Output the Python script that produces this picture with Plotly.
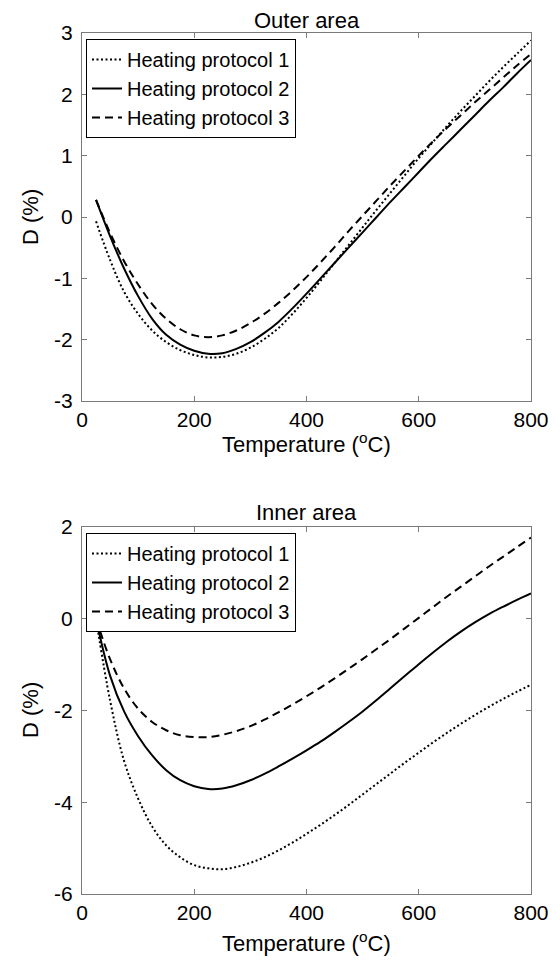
import plotly.graph_objects as go

temperature = [25, 50, 75, 100, 125, 150, 175, 200, 225, 250, 275, 300, 325, 350, 375, 400,
               425, 450, 475, 500, 525, 550, 575, 600, 625, 650, 675, 700, 725, 750, 775, 800]

outer_p1 = [-0.07, -0.70, -1.22, -1.58, -1.85, -2.04, -2.17, -2.25, -2.29, -2.28, -2.23, -2.13,
            -1.99, -1.81, -1.58, -1.32, -1.04, -0.75, -0.46, -0.17, 0.12, 0.40, 0.68, 0.96,
            1.22, 1.48, 1.73, 1.97, 2.21, 2.44, 2.66, 2.88]
outer_p2 = [0.28, -0.31, -0.84, -1.29, -1.66, -1.92, -2.08, -2.18, -2.23, -2.22, -2.15, -2.04,
            -1.89, -1.71, -1.49, -1.25, -1.00, -0.75, -0.50, -0.25, 0.00, 0.25, 0.49, 0.73,
            0.97, 1.20, 1.43, 1.66, 1.89, 2.11, 2.34, 2.56]
outer_p3 = [0.28, -0.26, -0.72, -1.10, -1.42, -1.66, -1.83, -1.93, -1.96, -1.93, -1.85, -1.73,
            -1.58, -1.40, -1.20, -0.98, -0.74, -0.49, -0.23, 0.02, 0.27, 0.52, 0.76, 1.00,
            1.23, 1.45, 1.66, 1.87, 2.07, 2.27, 2.47, 2.66]

inner_p1 = [0.0, -1.78, -3.10, -3.92, -4.53, -4.94, -5.20, -5.37, -5.44, -5.46, -5.41, -5.32,
            -5.20, -5.05, -4.88, -4.69, -4.49, -4.28, -4.06, -3.83, -3.60, -3.37, -3.14, -2.92,
            -2.70, -2.49, -2.29, -2.10, -1.92, -1.75, -1.59, -1.44]
inner_p2 = [0.0, -1.24, -2.02, -2.56, -2.98, -3.30, -3.52, -3.65, -3.71, -3.70, -3.63, -3.52,
            -3.38, -3.22, -3.05, -2.87, -2.68, -2.47, -2.25, -2.02, -1.77, -1.51, -1.25, -0.99,
            -0.74, -0.50, -0.28, -0.08, 0.10, 0.26, 0.41, 0.55]
inner_p3 = [0.0, -0.88, -1.52, -1.96, -2.25, -2.43, -2.54, -2.58, -2.58, -2.53, -2.45, -2.34,
            -2.20, -2.04, -1.87, -1.69, -1.50, -1.30, -1.09, -0.88, -0.66, -0.44, -0.21, 0.02,
            0.25, 0.48, 0.70, 0.92, 1.14, 1.35, 1.56, 1.77]

series_names = ["Heating protocol 1", "Heating protocol 2", "Heating protocol 3"]
x_ticks = [0, 200, 400, 600, 800]
x_tick_text = ["0", "200", "400", "600", "800"]
outer_y_ticks = [-3, -2, -1, 0, 1, 2, 3]
outer_y_text = ["-3", "-2", "-1", "0", "1", "2", "3"]
inner_y_ticks = [-6, -4, -2, 0, 2]
inner_y_text = ["-6", "-4", "-2", "0", "2"]

dashes = ["2px,2.5px", "solid", "8px,5px"]
FONT = "Arial, Liberation Sans, sans-serif"
AX = "#7a7a7a"

# the page body adds an 8px margin; size the figure to fill the rest of the window
OFF = 8
W, H = 560 - OFF, 962 - OFF

def fx(px):
    return (px - OFF) / W

def fy(py):
    return (H - (py - OFF)) / H

fig = go.Figure()
for name, ys, d in zip(series_names, [outer_p1, outer_p2, outer_p3], dashes):
    fig.add_trace(go.Scatter(x=temperature, y=ys, mode="lines", name=name,
                             line=dict(color="black", width=2, dash=d, shape="spline"),
                             xaxis="x", yaxis="y", legend="legend"))
for name, ys, d in zip(series_names, [inner_p1, inner_p2, inner_p3], dashes):
    fig.add_trace(go.Scatter(x=temperature, y=ys, mode="lines", name=name,
                             line=dict(color="black", width=2, dash=d, shape="spline"),
                             xaxis="x2", yaxis="y2", legend="legend2"))

xdom = [fx(82), fx(531)]

def xax(anchor):
    return dict(range=[0, 800], tickvals=x_ticks, ticktext=x_tick_text, ticks="inside",
                ticklen=5, tickcolor=AX, showline=True, linecolor=AX, linewidth=1,
                mirror="ticks", showgrid=False, zeroline=False, anchor=anchor, domain=xdom,
                automargin=False, tickfont=dict(size=21, color="black", family=FONT))

def yax(rng, tv, tt, dom, anchor):
    return dict(range=rng, tickvals=tv, ticktext=tt, ticks="inside", ticklen=5, tickcolor=AX,
                showline=True, linecolor=AX, linewidth=1, mirror="ticks", showgrid=False,
                zeroline=False, anchor=anchor, domain=dom, automargin=False,
                ticklabelstandoff=4,
                tickfont=dict(size=21, color="black", family=FONT))

top_dom = [fy(401), fy(33)]
bot_dom = [fy(894), fy(527)]

legend_style = dict(bgcolor="white", bordercolor="black", borderwidth=1,
                    font=dict(size=20, color="black", family=FONT),
                    xanchor="left", yanchor="top", itemwidth=30, tracegroupgap=0)

def ann(text, x, y, angle=0):
    return dict(text=text, xref="paper", yref="paper", x=x, y=y, xanchor="center",
                yanchor="middle", showarrow=False, textangle=angle,
                font=dict(size=22, color="black", family=FONT))

xc = fx((82 + 531) / 2)

fig.update_layout(
    width=W, height=H, template="none",
    paper_bgcolor="white", plot_bgcolor="white",
    margin=dict(l=0, r=0, t=0, b=0, autoexpand=False),
    font=dict(family=FONT, size=20, color="black"),
    xaxis=xax("y"), yaxis=yax([-3, 3], outer_y_ticks, outer_y_text, top_dom, "x"),
    xaxis2=xax("y2"), yaxis2=yax([-6, 2], inner_y_ticks, inner_y_text, bot_dom, "x2"),
    legend=dict(x=fx(86), y=fy(39), **legend_style),
    legend2=dict(x=fx(86), y=fy(533), **legend_style),
    annotations=[
        ann("Outer area", xc, fy(21)),
        ann("Inner area", xc, fy(512)),
        ann("Temperature (<sup>o</sup>C)", xc, fy(443)),
        ann("Temperature (<sup>o</sup>C)", xc, fy(942)),
        ann("D (%)", fx(30), fy(217), -90),
        ann("D (%)", fx(30), fy(710), -90),
    ],
)

fig.write_html("out.html")
